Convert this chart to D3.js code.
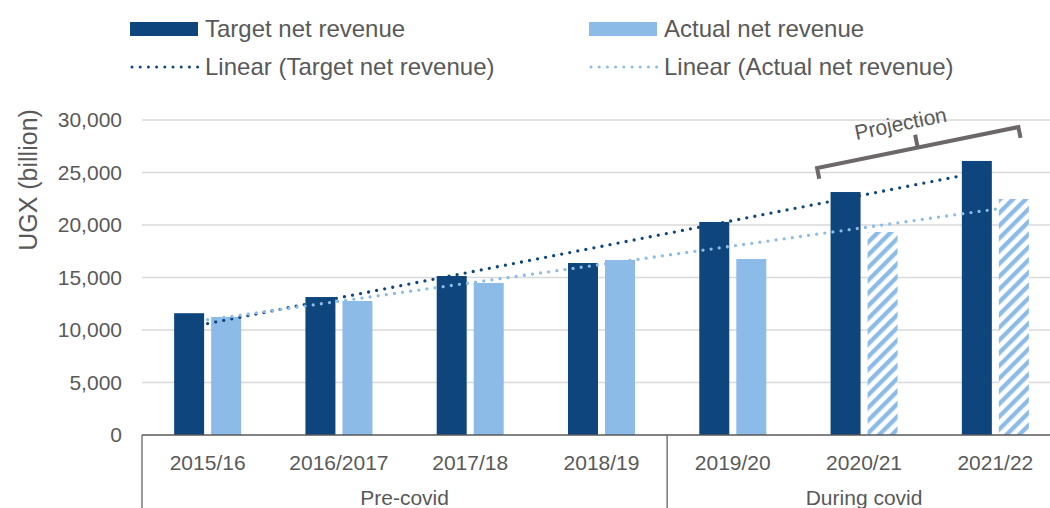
<!DOCTYPE html>
<html>
<head>
  <meta charset="utf-8">
  <script src="https://d3js.org/d3.v7.min.js"></script>
  <style>
    body { margin: 0; background: #fff; }
    text { font-family: "Liberation Sans", Arial, sans-serif; fill: #595959; }
  </style>
</head>
<body>
  <script>
    // Chart data
    const years = ["2015/16", "2016/2017", "2017/18", "2018/19", "2019/20", "2020/21", "2021/22"];
    const targetRevenue = [11600, 13140, 15140, 16380, 20290, 23140, 26100];
    const actualRevenue = [11240, 12760, 14480, 16670, 16760, 19330, 22480];
    const projected = [false, false, false, false, false, true, true];
    const periods = ["Pre-covid", "During covid"];
    const periodSpans = [[0, 3], [4, 6]];
    const yTicks = [0, 5000, 10000, 15000, 20000, 25000, 30000];
    const series = ["Target net revenue", "Actual net revenue"];

    const colors = { target: "#0E457C", actual: "#8BBBE6" };

    const width = 1050, height = 508;
    const margin = { top: 120, left: 142, bottom: 73 };
    const plotRight = 1061;
    const y0 = height - margin.bottom;

    const svg = d3.select("body").append("svg")
      .attr("width", width)
      .attr("height", height);

    // hatch for projected values
    const defs = svg.append("defs");
    const pat = defs.append("pattern")
      .attr("id", "hatch")
      .attr("patternUnits", "userSpaceOnUse")
      .attr("width", 9).attr("height", 9)
      .attr("patternTransform", "rotate(45)");
    pat.append("rect").attr("width", 9).attr("height", 9).attr("fill", "#fff");
    pat.append("rect").attr("width", 4.3).attr("height", 9).attr("fill", colors.actual);

    const x = d3.scaleBand()
      .domain(years)
      .range([margin.left, plotRight]);

    const y = d3.scaleLinear()
      .domain([0, 30000])
      .range([y0, margin.top]);

    const x1 = d3.scaleBand()
      .domain(series)
      .range([-33.5, 33.5])
      .paddingInner(0.19);

    const cx = d => x(d) + x.bandwidth() / 2;

    // gridlines
    svg.append("g")
      .selectAll("line")
      .data(yTicks.filter(t => t > 0))
      .join("line")
      .attr("x1", margin.left).attr("x2", plotRight)
      .attr("y1", d => y(d)).attr("y2", d => y(d))
      .attr("stroke", "#d9d9d9").attr("stroke-width", 1.3);

    // y tick labels
    svg.append("g")
      .selectAll("text")
      .data(yTicks)
      .join("text")
      .attr("x", 122)
      .attr("y", d => y(d))
      .attr("dy", "0.35em")
      .attr("text-anchor", "end")
      .style("font-size", "21px")
      .text(d => d3.format(",")(d));

    // y axis title
    svg.append("text")
      .attr("transform", `translate(28,${180}) rotate(-90)`)
      .attr("text-anchor", "middle")
      .attr("dy", "0.35em")
      .style("font-size", "25px")
      .text("UGX (billion)");

    // bars
    const bars = svg.append("g");
    bars.selectAll(".target")
      .data(years)
      .join("rect")
      .attr("class", "target")
      .attr("x", d => cx(d) + x1(series[0]))
      .attr("width", x1.bandwidth())
      .attr("y", (d, i) => y(targetRevenue[i]))
      .attr("height", (d, i) => y0 - y(targetRevenue[i]))
      .attr("fill", colors.target);

    bars.selectAll(".actual")
      .data(years)
      .join("rect")
      .attr("class", "actual")
      .attr("x", d => cx(d) + x1(series[1]))
      .attr("width", x1.bandwidth())
      .attr("y", (d, i) => y(actualRevenue[i]))
      .attr("height", (d, i) => y0 - y(actualRevenue[i]))
      .attr("fill", (d, i) => projected[i] ? "url(#hatch)" : colors.actual);

    // linear trendlines (least squares, like Excel)
    function linearFit(vals) {
      const n = vals.length;
      const mx = (n - 1) / 2;
      const my = d3.mean(vals);
      let sxy = 0, sxx = 0;
      vals.forEach((v, i) => { sxy += (i - mx) * (v - my); sxx += (i - mx) * (i - mx); });
      const b = sxy / sxx;
      return i => my + b * (i - mx);
    }
    const trendLine = d3.line()
      .x(d => cx(years[d[0]]))
      .y(d => y(d[1]));

    [[targetRevenue, colors.target], [actualRevenue, colors.actual]].forEach(([vals, c]) => {
      const f = linearFit(vals);
      const pts = [[0, f(0)], [vals.length - 1, f(vals.length - 1)]];
      svg.append("path")
        .attr("d", trendLine(pts))
        .attr("fill", "none")
        .attr("stroke", c)
        .attr("stroke-width", 3.3)
        .attr("stroke-linecap", "round")
        .attr("stroke-dasharray", "0 8.2");
    });

    // x axis line + category boxes
    const axisColor = "#595959";
    svg.append("line")
      .attr("x1", margin.left).attr("x2", plotRight)
      .attr("y1", y0).attr("y2", y0)
      .attr("stroke", axisColor).attr("stroke-width", 1.5);

    const dividers = [x(years[0]), x(years[periodSpans[1][0]])];
    svg.append("g")
      .selectAll("line")
      .data(dividers)
      .join("line")
      .attr("x1", d => d).attr("x2", d => d)
      .attr("y1", y0).attr("y2", height)
      .attr("stroke", axisColor).attr("stroke-width", 1.2);

    svg.append("g")
      .selectAll("text")
      .data(years)
      .join("text")
      .attr("x", d => cx(d))
      .attr("y", 463)
      .attr("dy", "0.35em")
      .attr("text-anchor", "middle")
      .style("font-size", "21px")
      .text(d => d);

    svg.append("g")
      .selectAll("text")
      .data(periods)
      .join("text")
      .attr("x", (d, i) => (x(years[periodSpans[i][0]]) + x(years[periodSpans[i][1]]) + x.bandwidth()) / 2)
      .attr("y", 498)
      .attr("dy", "0.35em")
      .attr("text-anchor", "middle")
      .style("font-size", "21px")
      .text(d => d);

    // projection bracket
    const bx0 = cx(years[5]) - 47, by0 = y(25430);
    const bx1 = cx(years[6]) + 23, by1 = y(29330);
    const ang = Math.atan2(by1 - by0, bx1 - bx0);
    const nx = -Math.sin(ang), ny = Math.cos(ang); // downward normal
    const ux = Math.cos(ang), uy = Math.sin(ang);
    const tick = 11;
    const br = svg.append("g");
    br.append("path")
      .attr("d", `M${bx0 + nx * tick},${by0 + ny * tick} L${bx0},${by0} L${bx1},${by1} L${bx1 + nx * tick},${by1 + ny * tick}`)
      .attr("fill", "none")
      .attr("stroke", "#6d6769")
      .attr("stroke-width", 4);
    const mx = (bx0 + bx1) / 2, my = (by0 + by1) / 2;
    br.append("line")
      .attr("x1", mx).attr("y1", my)
      .attr("x2", mx - nx * 13).attr("y2", my - ny * 13)
      .attr("stroke", "#6d6769")
      .attr("stroke-width", 4);
    br.append("text")
      .attr("transform", `translate(${mx - nx * 27 - ux * 12},${my - ny * 27 - uy * 12}) rotate(${ang * 180 / Math.PI})`)
      .attr("text-anchor", "middle")
      .attr("dy", "0.35em")
      .style("font-size", "21px")
      .text("Projection");

    // legend
    const legend = svg.append("g");
    const legendItems = [
      { label: "Target net revenue", color: colors.target, type: "rect", x: 130, y: 29 },
      { label: "Actual net revenue", color: colors.actual, type: "rect", x: 589, y: 29 },
      { label: "Linear (Target net revenue)", color: colors.target, type: "line", x: 130, y: 67 },
      { label: "Linear (Actual net revenue)", color: colors.actual, type: "line", x: 589, y: 67 }
    ];
    legendItems.forEach(it => {
      if (it.type === "rect") {
        legend.append("rect")
          .attr("x", it.x).attr("y", it.y - 7)
          .attr("width", 68).attr("height", 14)
          .attr("fill", it.color);
      } else {
        legend.append("line")
          .attr("x1", it.x + 2).attr("x2", it.x + 68)
          .attr("y1", it.y).attr("y2", it.y)
          .attr("stroke", it.color)
          .attr("stroke-width", 3)
          .attr("stroke-linecap", "round")
          .attr("stroke-dasharray", "0 8.2");
      }
      legend.append("text")
        .attr("x", it.x + 75)
        .attr("y", it.y)
        .attr("dy", "0.35em")
        .style("font-size", "24px")
        .text(it.label);
    });
  </script>
</body>
</html>
